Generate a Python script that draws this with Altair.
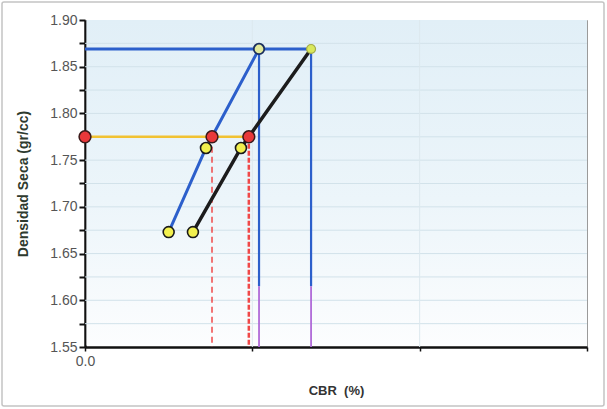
import altair as alt
import pandas as pd

# Plot area size in pixels
W, H = 502, 327

# Compaction curves: dry density against CBR for the two curves
cbr_blue = [5.0, 7.23, 10.40]
dens_blue = [1.673, 1.763, 1.869]
cbr_black = [6.45, 9.32, 13.51]
dens_black = [1.673, 1.763, 1.869]

# Maximum dry density and design density
dens_max = 1.869
dens_design = 1.775
cbr_at_design = [7.59, 9.79]   # CBR read on each curve at the design density
cbr_at_max = [10.40, 13.51]    # CBR read on each curve at the maximum density
dens_purple_from = 1.615       # lower end of the vertical guides drawn in violet

# Axis ticks and grid
x_ticks = [0, 10, 20, 30]
x_grid = [10, 20]
y_ticks = [1.55, 1.575, 1.60, 1.625, 1.65, 1.675, 1.70, 1.725, 1.75,
           1.775, 1.80, 1.825, 1.85, 1.875, 1.90]
y_grid = [1.575, 1.60, 1.625, 1.65, 1.675, 1.70, 1.725, 1.75,
          1.775, 1.80, 1.825, 1.85, 1.875]

FONT = "Liberation Sans"
BLUE = "#2c5fcb"
BLACK = "#1c1c1c"
YELLOW = "#f1c232"
RED = "#e8383a"
PURPLE = "#b06ad8"

xs = alt.Scale(domain=[0, 30], nice=False, zero=False)
ys = alt.Scale(domain=[1.55, 1.90], nice=False, zero=False)

x_axis = alt.Axis(
    values=x_ticks, labelExpr="datum.value == 0 ? '0.0' : ''", labelFlush=False,
    grid=False, domainColor="#111", domainWidth=2.5,
    tickColor="#111", tickWidth=1.5, tickSize=4,
    labelFont=FONT, labelFontSize=14, labelColor="#555", labelPadding=3,
    title="CBR\u00a0\u00a0(%)", titleFont=FONT, titleFontSize=13, titleFontWeight="bold",
    titleColor="#333", titlePadding=16,
)
y_axis = alt.Axis(
    values=y_ticks,
    labelExpr="abs(datum.value * 20 - round(datum.value * 20)) < 0.01 ? format(datum.value, '.2f') : ''",
    grid=False, domainColor="#111", domainWidth=2.5,
    tickColor="#111", tickWidth=2, tickSize=6,
    labelFont=FONT, labelFontSize=14, labelColor="#555", labelPadding=2,
    title="Densidad Seca (gr/cc)", titleFont=FONT, titleFontSize=14,
    titleFontWeight="bold", titleColor="#2e3a2e", titlePadding=19,
)

X = alt.X("cbr:Q", scale=xs, axis=x_axis)
Y = alt.Y("dens:Q", scale=ys, axis=y_axis)
X2 = alt.X2("cbr2")
Y2 = alt.Y2("dens2")

# Soft blue-to-white background of the plotting area
bg = alt.Chart(pd.DataFrame({"cbr": [0], "cbr2": [30], "dens": [1.90], "dens2": [1.55]})).mark_rect(
    xOffset=1.5, y2Offset=-1.5,
    fill=alt.Gradient(
        gradient="linear", x1=0, x2=0, y1=0, y2=1,
        stops=[alt.GradientStop(color="#e1eff7", offset=0),
               alt.GradientStop(color="#ecf5fa", offset=0.55),
               alt.GradientStop(color="#fcfdfe", offset=1)],
    ),
).encode(x=X, x2=X2, y=Y, y2=Y2)

grid_h = alt.Chart(pd.DataFrame({"dens": y_grid})).mark_rule(
    color="#d2e2ea", strokeWidth=1).encode(y=Y)
grid_v = alt.Chart(pd.DataFrame({"cbr": x_grid})).mark_rule(
    color="#dce8ee", strokeWidth=1).encode(x=X)

# Horizontal guides: maximum density (blue) and design density (yellow)
h_max = alt.Chart(pd.DataFrame({"cbr": [0], "cbr2": [max(cbr_at_max)], "dens": [dens_max]})).mark_rule(
    color=BLUE, strokeWidth=3).encode(x=X, x2=X2, y=Y)
h_design = alt.Chart(pd.DataFrame({"cbr": [0], "cbr2": [max(cbr_at_design)], "dens": [dens_design]})).mark_rule(
    color=YELLOW, strokeWidth=2.5).encode(x=X, x2=X2, y=Y)

# Vertical guides from the maximum density down to the axis
v_blue = alt.Chart(pd.DataFrame({"cbr": cbr_at_max, "dens": [dens_max] * 2,
                                 "dens2": [dens_purple_from] * 2})).mark_rule(
    color=BLUE, strokeWidth=2.2).encode(x=X, y=Y, y2=Y2)
v_purple = alt.Chart(pd.DataFrame({"cbr": cbr_at_max, "dens": [dens_purple_from] * 2,
                                   "dens2": [1.55] * 2})).mark_rule(
    color=PURPLE, strokeWidth=1.8).encode(x=X, y=Y, y2=Y2)

# Dashed drops from the design density to the CBR axis
drop_a = alt.Chart(pd.DataFrame({"cbr": [cbr_at_design[0]], "dens": [dens_design], "dens2": [1.55]})).mark_rule(
    color="#f04848", strokeWidth=1.5, strokeDash=[6, 4]).encode(x=X, y=Y, y2=Y2)
drop_b = alt.Chart(pd.DataFrame({"cbr": [cbr_at_design[1]], "dens": [dens_design], "dens2": [1.55]})).mark_rule(
    color="#f04848", strokeWidth=2.5, strokeDash=[5, 2]).encode(x=X, y=Y, y2=Y2)

curve_blue = alt.Chart(pd.DataFrame({"cbr": cbr_blue, "dens": dens_blue})).mark_line(
    color=BLUE, strokeWidth=3).encode(x=X, y=Y, order="dens:Q")
curve_black = alt.Chart(pd.DataFrame({"cbr": cbr_black, "dens": dens_black})).mark_line(
    color=BLACK, strokeWidth=3.5).encode(x=X, y=Y, order="dens:Q")

# Measured points (lower two of each curve)
pts = alt.Chart(pd.DataFrame({"cbr": cbr_blue[:2] + cbr_black[:2],
                              "dens": dens_blue[:2] + dens_black[:2]})).mark_circle(
    size=120, fill="#f2f04e", stroke="#1a1a1a", strokeWidth=1.6, opacity=1).encode(x=X, y=Y)

# Points at the maximum density
top_blue = alt.Chart(pd.DataFrame({"cbr": [cbr_blue[2]], "dens": [dens_blue[2]]})).mark_circle(
    size=110, fill="#e3ea9c", stroke="#1b2f5e", strokeWidth=1.8, opacity=1).encode(x=X, y=Y)
top_black = alt.Chart(pd.DataFrame({"cbr": [cbr_black[2]], "dens": [dens_black[2]]})).mark_circle(
    size=80, fill="#d9e85c", stroke="#a4ac4a", strokeWidth=1.2, opacity=1).encode(x=X, y=Y)

# Design density points: on the axis and on each curve
red_pts = alt.Chart(pd.DataFrame({"cbr": [0] + cbr_at_design,
                                  "dens": [dens_design] * 3})).mark_circle(
    size=140, fill=RED, stroke="#3a1a1a", strokeWidth=1.5, opacity=1).encode(x=X, y=Y)

# Light outer frame around the whole figure
frame = alt.Chart(pd.DataFrame({"k": [0]})).mark_rect(
    fillOpacity=0, stroke="#c4c4c4", strokeWidth=1.5, cornerRadius=2,
).encode(x=alt.value(-83), x2=alt.value(W + 17), y=alt.value(-18), y2=alt.value(H + 59))

chart = alt.layer(
    bg, grid_h, grid_v, h_max, h_design, v_blue, v_purple, drop_a, drop_b,
    curve_blue, curve_black, pts, top_blue, top_black, red_pts, frame,
).properties(
    width=W, height=H,
    padding={"left": 85, "top": 20, "right": 20, "bottom": 62},
    autosize=alt.AutoSizeParams(type="none"),
    background="white",
).configure_view(stroke="#9a9a9a", strokeWidth=1)

chart.save("out.html", embed_options={"renderer": "svg", "actions": False})
